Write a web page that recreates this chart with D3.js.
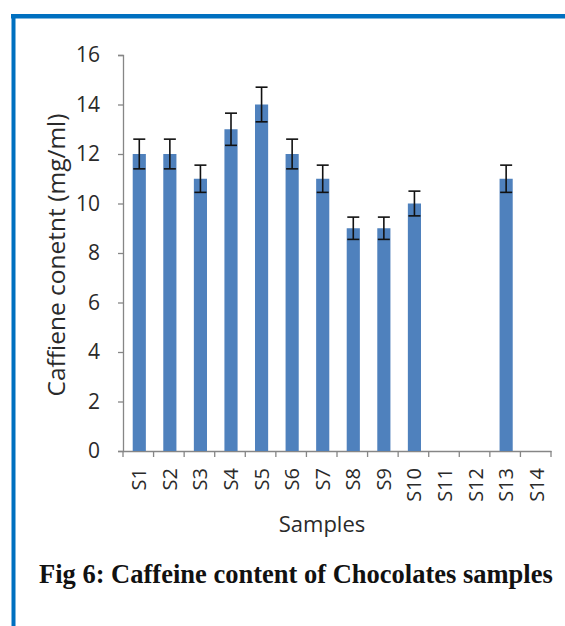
<!DOCTYPE html>
<html><head><meta charset="utf-8">
<script src="https://cdn.jsdelivr.net/npm/d3@7"></script>
<style>html,body{margin:0;padding:0;background:#fff;}svg{display:block;}</style>
</head><body>
<svg id="c" width="565" height="626"></svg>
<script>
const categories = ["S1","S2","S3","S4","S5","S6","S7","S8","S9","S10","S11","S12","S13","S14"];
const values = [12,12,11,13,14,12,11,9,9,10,null,null,11,null];
const errors = [0.6,0.6,0.55,0.65,0.7,0.6,0.55,0.45,0.45,0.5,null,null,0.55,null];
const yTicks = [0,2,4,6,8,10,12,14,16];
const yTitle = "Caffiene conetnt (mg/ml)";
const xTitle = "Samples";
const caption = "Fig 6: Caffeine content of Chocolates samples";

const svg = d3.select("#c");
const font = "'Open Sans', 'Liberation Sans', sans-serif";
const axisColor = "#868686";
const textColor = "#2a2a2a";

// frame
svg.append("rect").attr("x",0).attr("y",0).attr("width",565).attr("height",626).attr("fill","#fff");
svg.append("rect").attr("x",11).attr("y",14).attr("width",554).attr("height",4.5).attr("fill","#0070c0");
svg.append("rect").attr("x",11.5).attr("y",14).attr("width",4).attr("height",612).attr("fill","#0070c0");

const x = d3.scaleBand().domain(categories).range([123,551]).paddingInner(0).paddingOuter(0);
const y = d3.scaleLinear().domain([0,16]).range([451,55]);

// y axis
const gy = svg.append("g").attr("transform","translate(123,0)")
  .call(d3.axisLeft(y).tickValues(yTicks).tickSize(5).tickPadding(18).tickFormat(d3.format("d")));
gy.select(".domain").attr("stroke",axisColor).attr("stroke-width",1.3);
gy.selectAll(".tick line").attr("stroke",axisColor).attr("stroke-width",1.3);
gy.selectAll(".tick text").attr("font-family",font).attr("font-size",21).attr("fill",textColor);

// x axis
const gx = svg.append("g").attr("transform","translate(0,451)")
  .call(d3.axisBottom(x).tickSize(0).tickPadding(0));
gx.select(".domain").attr("stroke",axisColor).attr("stroke-width",1.3);
gx.selectAll(".tick text")
  .attr("font-family",font).attr("font-size",20).attr("fill",textColor)
  .attr("text-anchor","end").attr("dy",null)
  .attr("transform","translate(8,17) rotate(-90)");
// boundary ticks
const bounds = categories.map(c => x(c)).concat([x.range()[1]]);
svg.append("g").selectAll("line").data(bounds).join("line")
  .attr("x1",d=>d).attr("x2",d=>d).attr("y1",451).attr("y2",457)
  .attr("stroke",axisColor).attr("stroke-width",1.3);

// bars
const bw = x.bandwidth()*0.43;
const data = categories.map((c,i)=>({c, v: values[i], e: errors[i]})).filter(d=>d.v!=null);
svg.append("g").selectAll("rect").data(data).join("rect")
  .attr("x",d=>x(d.c)+x.bandwidth()/2-bw/2+1)
  .attr("width",bw)
  .attr("y",d=>y(d.v))
  .attr("height",d=>y(0)-y(d.v))
  .attr("fill","#4f81bd");

// error bars
const eg = svg.append("g").attr("stroke","#111").attr("stroke-width",1.6);
data.forEach(d=>{
  const cx = x(d.c)+x.bandwidth()/2+1;
  eg.append("line").attr("x1",cx).attr("x2",cx).attr("y1",y(d.v-d.e)).attr("y2",y(d.v+d.e));
  eg.append("line").attr("x1",cx-6).attr("x2",cx+6).attr("y1",y(d.v+d.e)).attr("y2",y(d.v+d.e));
  eg.append("line").attr("x1",cx-6).attr("x2",cx+6).attr("y1",y(d.v-d.e)).attr("y2",y(d.v-d.e));
});

// titles
svg.append("text").attr("x",322).attr("y",532).attr("text-anchor","middle")
  .attr("font-family",font).attr("font-size",22).attr("fill",textColor).text(xTitle);
svg.append("text").attr("transform","translate(65,255) rotate(-90)").attr("text-anchor","middle")
  .attr("font-family",font).attr("font-size",24.5).attr("fill",textColor).text(yTitle);

// caption
const cap = svg.append("text").attr("x",39).attr("y",583)
  .attr("font-family","'Liberation Serif', 'DejaVu Serif', serif").attr("font-weight","bold")
  .attr("font-size",21).attr("fill","#111").text(caption);
const w = cap.node().getComputedTextLength();
cap.attr("font-size", 21*514/w);
</script>
</body></html>
